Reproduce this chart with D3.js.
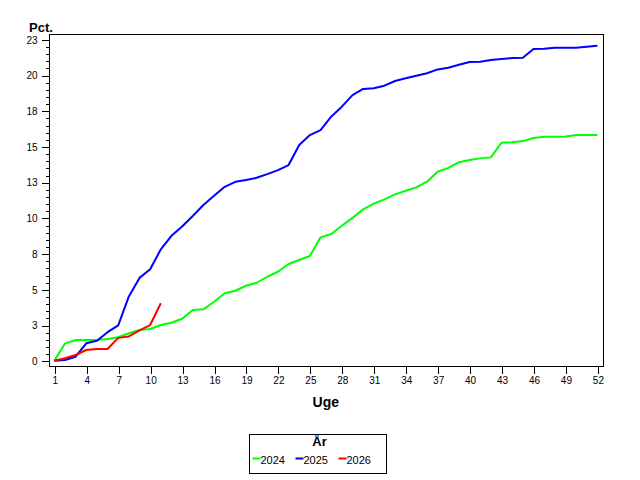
<!DOCTYPE html>
<html>
<head>
<meta charset="utf-8">
<script src="https://cdn.jsdelivr.net/npm/d3@7"></script>
<style>
  body { margin: 0; background: #fff; }
  svg { display: block; }
  text { font-family: 'Liberation Sans', Arial, sans-serif; }
</style>
</head>
<body>
<div id="wrapper"></div>
<script>
const weeks = [1, 2, 3, 4, 5, 6, 7, 8, 9, 10, 11, 12, 13, 14, 15, 16, 17, 18, 19, 20,
  21, 22, 23, 24, 25, 26, 27, 28, 29, 30, 31, 32, 33, 34, 35, 36, 37, 38, 39, 40,
  41, 42, 43, 44, 45, 46, 47, 48, 49, 50, 51, 52]

const years = ['2024', '2025', '2026']

const pct2024 = [0, 1.2, 1.45, 1.45, 1.45, 1.52, 1.64, 1.92, 2.15, 2.22,
  2.5, 2.66, 2.94, 3.55, 3.6, 4.13, 4.72, 4.9, 5.25, 5.46,
  5.88, 6.23, 6.77, 7.05, 7.33, 8.64, 8.87, 9.45, 10.0, 10.6,
  11.0, 11.3, 11.65, 11.9, 12.14, 12.54, 13.24, 13.5, 13.9, 14.05,
  14.17, 14.24, 15.27, 15.3, 15.38, 15.6, 15.69, 15.69, 15.71, 15.8,
  15.8, 15.8]

const pct2025 = [0, 0.05, 0.28, 1.22, 1.4, 2.0, 2.48, 4.5, 5.8, 6.4,
  7.8, 8.75, 9.4, 10.13, 10.9, 11.55, 12.18, 12.53, 12.65, 12.81,
  13.07, 13.35, 13.7, 15.1, 15.8, 16.15, 17.09, 17.79, 18.6, 19.03,
  19.08, 19.26, 19.59, 19.78, 19.96, 20.13, 20.4, 20.52, 20.73, 20.92,
  20.94, 21.06, 21.13, 21.2, 21.22, 21.83, 21.85, 21.92, 21.92, 21.92,
  21.99, 22.06]

const pct2026 = [0, 0.17, 0.4, 0.75, 0.82, 0.82, 1.6, 1.7, 2.12, 2.5, 4.02]

const xTickValues = [1, 4, 7, 10, 13, 16, 19, 22, 25, 28, 31, 34, 37, 40, 43, 46, 49, 52]
const yTickValues = [0, 2.5, 5, 7.5, 10, 12.5, 15, 17.5, 20, 22.5]
const yTickLabels = ['0', '3', '5', '8', '10', '13', '15', '18', '20', '23']
const yMinorValues = [0.5, 1, 1.5, 2, 3, 3.5, 4, 4.5, 5.5, 6, 6.5, 7, 8, 8.5, 9, 9.5,
  10.5, 11, 11.5, 12, 13, 13.5, 14, 14.5, 15.5, 16, 16.5, 17, 18, 18.5, 19, 19.5,
  20.5, 21, 21.5, 22]

const colors = ['#00ff00', '#0000ff', '#ff0000']
const seriesValues = [pct2024, pct2025, pct2026]

const width = 640
const height = 480
const plot = { left: 49, top: 34, right: 602.7, bottom: 366 }

const svg = d3
  .select('#wrapper')
  .append('svg')
  .attr('width', width)
  .attr('height', height)

const xScale = d3.scaleLinear().domain([0.5, 52.5]).range([plot.left, plot.right])
const yScale = d3.scaleLinear().domain([-0.37, 22.88]).range([plot.bottom, plot.top])

// frame
svg
  .append('rect')
  .attr('x', plot.left + 0.5)
  .attr('y', plot.top + 0.5)
  .attr('width', plot.right - plot.left)
  .attr('height', plot.bottom - plot.top)
  .attr('fill', 'none')
  .attr('stroke', '#000')
  .attr('shape-rendering', 'crispEdges')

// axes
const xAxis = svg
  .append('g')
  .attr('transform', `translate(0.5, ${plot.bottom + 0.5})`)
  .call(
    d3.axisBottom(xScale).tickValues(xTickValues).tickSize(7).tickPadding(3).tickSizeOuter(0),
  )
const yAxis = svg
  .append('g')
  .attr('transform', `translate(${plot.left + 0.5}, 0.5)`)
  .call(
    d3
      .axisLeft(yScale)
      .tickValues(yTickValues)
      .tickFormat((d, i) => yTickLabels[i])
      .tickSize(8)
      .tickPadding(4)
      .tickSizeOuter(0),
  )
const yMinor = svg
  .append('g')
  .attr('transform', `translate(${plot.left + 0.5}, 0.5)`)
  .call(d3.axisLeft(yScale).tickValues(yMinorValues).tickFormat('').tickSize(4).tickSizeOuter(0))

svg.selectAll('.domain').remove()
svg.selectAll('.tick line').attr('shape-rendering', 'crispEdges')
svg
  .selectAll('.tick text')
  .style('font-family', "'Liberation Sans', Arial, sans-serif")
  .style('font-size', '10px')
  .attr('fill', '#000')

// lines
const lineGenerator = d3
  .line()
  .x((d, i) => xScale(weeks[i]))
  .y((d) => yScale(d))

svg
  .append('g')
  .selectAll('path')
  .data(seriesValues)
  .enter()
  .append('path')
  .attr('fill', 'none')
  .attr('stroke', (d, i) => colors[i])
  .attr('stroke-width', 2)
  .attr('stroke-linejoin', 'round')
  .attr('d', (d) => lineGenerator(d))

// labels
svg
  .append('text')
  .attr('x', 29)
  .attr('y', 32)
  .style('font-size', '13px')
  .style('font-weight', 'bold')
  .text('Pct.')

svg
  .append('text')
  .attr('x', (plot.left + plot.right) / 2)
  .attr('y', 407)
  .attr('text-anchor', 'middle')
  .style('font-size', '14px')
  .style('font-weight', 'bold')
  .text('Uge')

// legend
const legend = svg.append('g').attr('transform', 'translate(249.5, 434.5)')
legend
  .append('rect')
  .attr('width', 137)
  .attr('height', 39)
  .attr('fill', 'none')
  .attr('stroke', '#000')
  .attr('shape-rendering', 'crispEdges')
legend
  .append('text')
  .attr('x', 70)
  .attr('y', 11)
  .attr('text-anchor', 'middle')
  .style('font-size', '13px')
  .style('font-weight', 'bold')
  .text('År')

const legendItem = legend
  .selectAll('.legend-item')
  .data(years)
  .enter()
  .append('g')
  .attr('class', 'legend-item')
  .attr('transform', (d, i) => `translate(${3 + i * 43}, 25)`)
legendItem
  .append('line')
  .attr('x1', 0)
  .attr('x2', 8)
  .attr('y1', -1)
  .attr('y2', -1)
  .attr('stroke', (d, i) => colors[i])
  .attr('stroke-width', 2)
legendItem
  .append('text')
  .attr('x', 8)
  .attr('y', 4)
  .style('font-size', '11px')
  .text((d) => d)
</script>
</body>
</html>
